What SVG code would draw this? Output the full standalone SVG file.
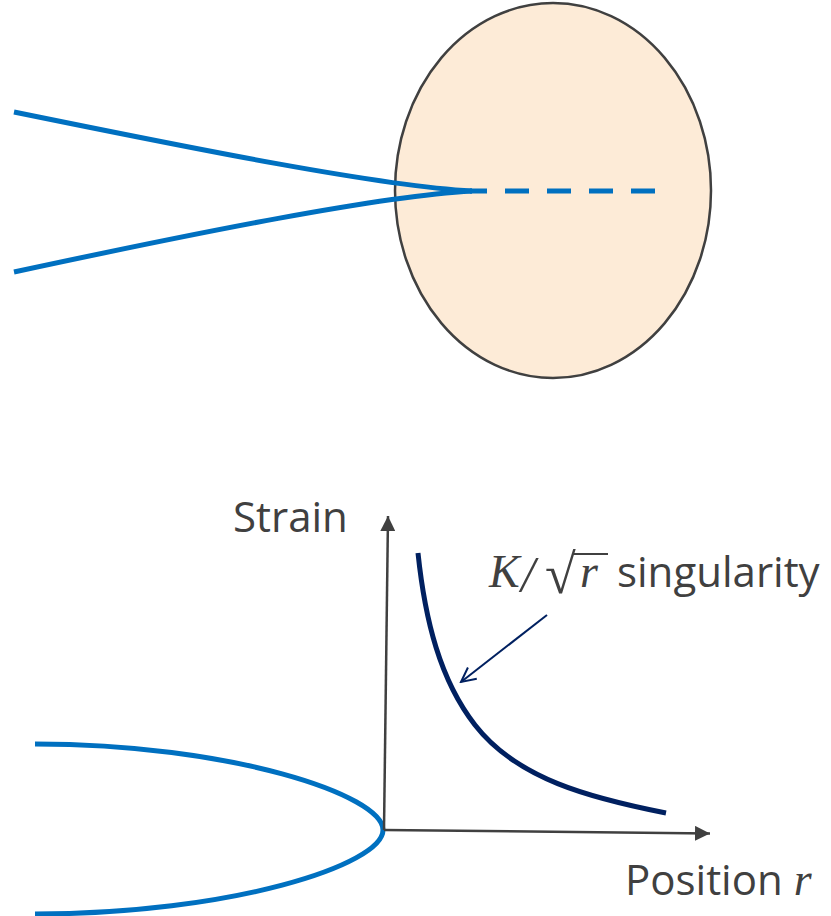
<svg xmlns="http://www.w3.org/2000/svg" width="831" height="916" viewBox="0 0 831 916">
<defs>
<style>
.crack{fill:none;stroke:#0070c0;stroke-width:5}
.axis{fill:none;stroke:#404040;stroke-width:2.5}
.lbl{font-family:"Open Sans","Liberation Sans",sans-serif;font-size:42px;fill:#404040}
.math{font-family:"Liberation Serif","DejaVu Serif",serif;font-size:46px;fill:#404040}
.mi{font-style:italic}
</style>
<marker id="tri" viewBox="0 0 10 10" refX="10" refY="5" markerWidth="6" markerHeight="6" markerUnits="strokeWidth" orient="auto">
<path d="M0,0 L10,5 L0,10 z" fill="#404040"/>
</marker>
<marker id="vee" viewBox="0 0 10 10" refX="9" refY="5" markerWidth="9" markerHeight="9" markerUnits="strokeWidth" orient="auto">
<path d="M1,1 L9,5 L1,9" fill="none" stroke="#002060" stroke-width="1.1"/>
</marker>
</defs>
<rect width="831" height="916" fill="#ffffff"/>
<g id="zone">
<ellipse cx="553" cy="190.5" rx="158" ry="187.5" fill="#fdebd7" stroke="#404040" stroke-width="2.5"/>
</g>
<g id="crack">
<path class="crack" d="M14,112 C200,150 380,186 472,191"/>
<path class="crack" d="M14,272 C200,232 380,196 472,191"/>
<path class="crack" d="M470,191 L655,191" stroke-dasharray="24 18" stroke-dashoffset="7"/>
</g>
<g id="crack-profile">
<path class="crack" d="M35,744 C230,744 383,795 383,830 C383,865 230,914 35,914"/>
</g>
<g id="connectors">
<path class="axis" d="M384,830 L388,516" marker-end="url(#tri)"/>
<path class="axis" d="M384,830 L710,833.5" marker-end="url(#tri)"/>
<path d="M418,553 C425,620 440,680 475,725 C517,779 590,798 666,813" fill="none" stroke="#002060" stroke-width="5"/>
<path d="M547,615 L461,682" fill="none" stroke="#002060" stroke-width="2" marker-end="url(#vee)"/>
</g>
<g id="labels">
<text class="lbl" x="233" y="532">Strain</text>
<text class="lbl" x="625" y="895">Position <tspan class="math mi">r</tspan></text>
<text class="math mi" x="489" y="587">K</text>
<text class="math mi" x="521" y="591" style="font-size:50px">/</text>
<text class="math" x="545" y="593" style="font-size:56px">√</text>
<line x1="573" y1="554" x2="608" y2="554" stroke="#404040" stroke-width="2.2"/>
<text class="math mi" x="580" y="587">r</text>
<text class="lbl" x="617" y="587">singularity</text>
</g>
</svg>
